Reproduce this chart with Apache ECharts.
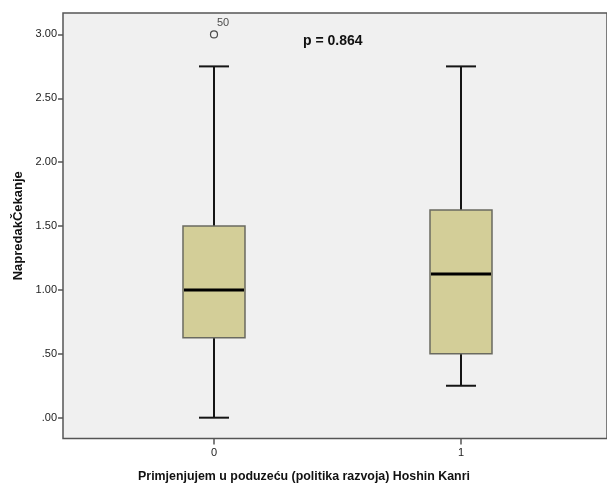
<!DOCTYPE html>
<html>
<head>
<meta charset="utf-8">
<script src="https://cdn.jsdelivr.net/npm/echarts@6/dist/echarts.min.js"></script>
<style>html,body{margin:0;padding:0;background:#fff}#c{width:607px;height:485px}</style>
</head>
<body>
<div id="c"></div>
<script>
var categories = [0, 1];
var categoryLabels = ['0', '1'];
var mins = [0.00, 0.25];
var q1s = [0.625, 0.50];
var medians = [1.00, 1.125];
var q3s = [1.50, 1.625];
var maxs = [2.75, 2.75];
var outliers = [[0, 3.00, '50']];
var yTicks = [0, 0.5, 1.0, 1.5, 2.0, 2.5, 3.0];
var pText = 'p = 0.864';

var boxData = categories.map(function (c, i) {
  return [c, mins[i], q1s[i], medians[i], q3s[i], maxs[i]];
});

function fmt(v) {
  var s = v.toFixed(2);
  if (s.indexOf('0.') === 0) s = s.slice(1);
  return s;
}

var chart = echarts.init(document.getElementById('c'), null, {renderer: 'canvas'});
chart.setOption({
  animation: false,
  backgroundColor: '#ffffff',
  textStyle: {fontFamily: 'Liberation Sans, Arial, sans-serif'},
  grid: {
    left: 63, right: 0, top: 13, bottom: 46.5,
    outerBoundsMode: 'none', containLabel: false,
    show: true, backgroundColor: '#f0f0f0', borderColor: '#555555', borderWidth: 1.5
  },
  xAxis: {
    type: 'value', min: -0.6113, max: 1.5911,
    splitLine: {show: false},
    axisLine: {show: false, onZero: false},
    axisTick: {show: true, customValues: categories, length: 6, lineStyle: {color: '#555', width: 1.5}},
    axisLabel: {show: true, customValues: categories, color: '#222', fontSize: 11, margin: 9,
      formatter: function (v) { return categoryLabels[categories.indexOf(v)]; }},
    name: 'Primjenjujem u poduzeću (politika razvoja) Hoshin Kanri',
    nameLocation: 'middle', nameGap: 32,
    nameTextStyle: {fontSize: 12.4, fontWeight: 'bold', color: '#111', padding: [0, 62, 0, 0]}
  },
  yAxis: {
    type: 'value', min: -0.163, max: 3.168,
    splitLine: {show: false},
    axisLine: {show: false, onZero: false},
    axisTick: {show: true, customValues: yTicks, length: 5, lineStyle: {color: '#555', width: 1.5}},
    axisLabel: {show: true, customValues: yTicks, color: '#222', fontSize: 11, margin: 6, formatter: fmt},
    name: 'NapredakČekanje', nameLocation: 'middle', nameGap: 38,
    nameTextStyle: {fontSize: 13, fontWeight: 'bold', color: '#111'}
  },
  series: [{
    type: 'custom',
    data: boxData,
    encode: {x: 0, y: [1, 2, 3, 4, 5]},
    renderItem: function (params, api) {
      var x = api.value(0);
      var pMin = api.coord([x, api.value(1)]);
      var pQ1 = api.coord([x, api.value(2)]);
      var pMed = api.coord([x, api.value(3)]);
      var pQ3 = api.coord([x, api.value(4)]);
      var pMax = api.coord([x, api.value(5)]);
      var cx = pMin[0];
      var bw = 62, cw = 30;
      var wStyle = {stroke: '#151515', lineWidth: 2};
      return {
        type: 'group',
        children: [
          {type: 'line', shape: {x1: cx, y1: pMax[1], x2: cx, y2: pQ3[1]}, style: wStyle},
          {type: 'line', shape: {x1: cx, y1: pQ1[1], x2: cx, y2: pMin[1]}, style: wStyle},
          {type: 'line', shape: {x1: cx - cw / 2, y1: pMax[1], x2: cx + cw / 2, y2: pMax[1]}, style: wStyle},
          {type: 'line', shape: {x1: cx - cw / 2, y1: pMin[1], x2: cx + cw / 2, y2: pMin[1]}, style: wStyle},
          {type: 'rect', shape: {x: cx - bw / 2, y: pQ3[1], width: bw, height: pQ1[1] - pQ3[1]},
            style: {fill: '#d3ce98', stroke: '#6a6a60', lineWidth: 1.5}},
          {type: 'line', shape: {x1: cx - bw / 2 + 1, y1: pMed[1], x2: cx + bw / 2 - 1, y2: pMed[1]},
            style: {stroke: '#000', lineWidth: 3}}
        ]
      };
    }
  }, {
    type: 'scatter',
    data: outliers,
    symbol: 'circle', symbolSize: 7,
    itemStyle: {color: '#f0f0f0', borderColor: '#222', borderWidth: 1.2},
    label: {show: true, position: [7, -13], formatter: function (p) { return p.data[2]; },
      fontSize: 11, color: '#222'}
  }],
  graphic: [{
    type: 'text', left: 303, top: 34,
    style: {text: pText, fontSize: 14, fontWeight: 'bold', fill: '#111',
      fontFamily: 'Liberation Sans, Arial, sans-serif'}
  }]
});
</script>
</body>
</html>
